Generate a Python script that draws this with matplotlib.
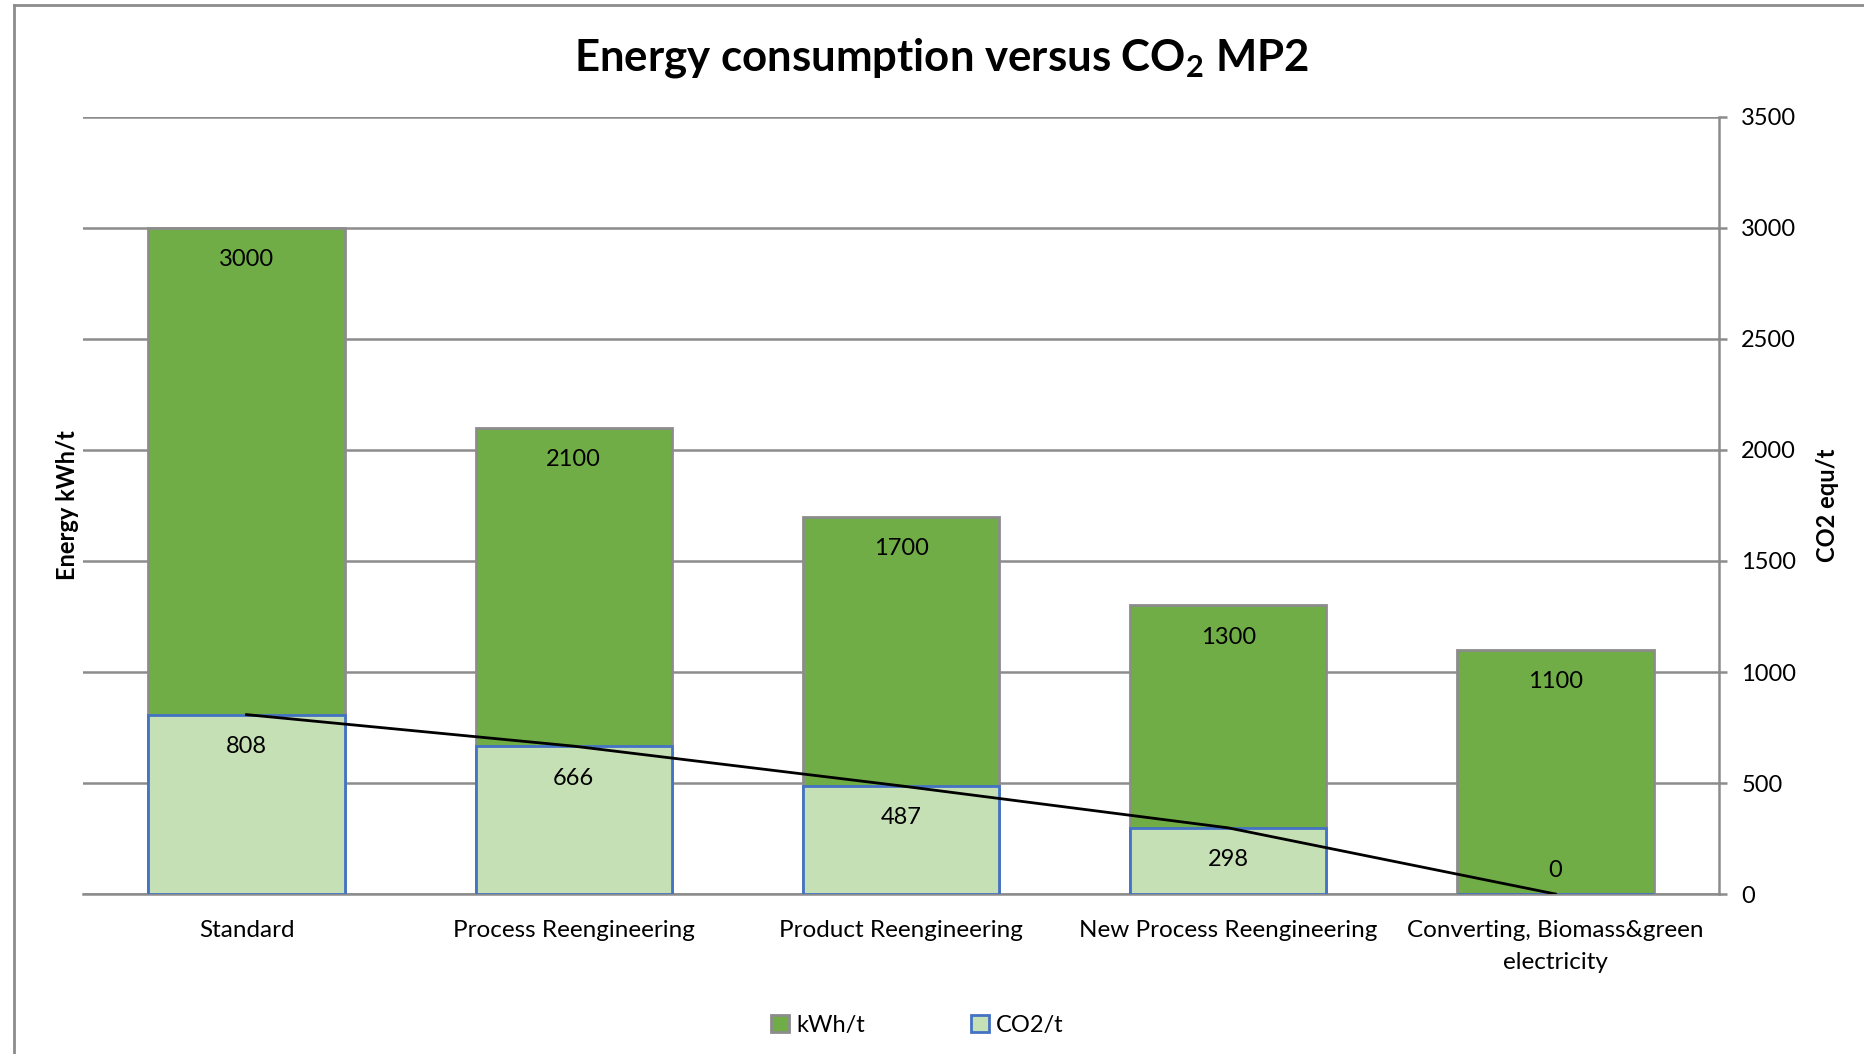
import matplotlib
matplotlib.use("Agg")
import matplotlib.pyplot as plt
from matplotlib.patches import Patch
from matplotlib.lines import Line2D
import numpy as np

# Dados do gráfico
categorias = ["Standard", "Process Reengineering", "Product Reengineering",
              "New Process Reengineering", "Converting, Biomass&green\nelectricity"]
energia_kwh = [3000, 2100, 1700, 1300, 1100]
co2_t = [808, 666, 487, 298, 0]
y_ticks = [0, 500, 1000, 1500, 2000, 2500, 3000, 3500]

plt.rcParams['font.family'] = ['Lato', 'DejaVu Sans']
plt.rcParams['mathtext.fontset'] = 'custom'
plt.rcParams['mathtext.rm'] = 'Lato:bold'
plt.rcParams['mathtext.it'] = 'Lato:bold'

verde = '#70AD47'
verde_claro = '#C5E0B4'
cinza = '#8C8C8C'
azul = '#4472C4'

fig = plt.figure(figsize=(18.65, 10.54), dpi=100)
ax = fig.add_axes([0.0445, 0.1518, 0.8772, 0.7372])
ax2 = ax.twinx()

x = np.arange(len(categorias))
largura = 0.6

# Barras de energia (eixo principal)
barras_e = ax.bar(x, energia_kwh, largura, color=verde, edgecolor=cinza, linewidth=2, zorder=2)
# Barras de CO2 (eixo secundário)
barras_c = ax2.bar(x, co2_t, largura, color=verde_claro, edgecolor=azul, linewidth=2, zorder=2)
# Linha de tendência do CO2
ax2.plot(x, co2_t, color='black', linewidth=2, zorder=3)

for a in (ax, ax2):
    a.set_ylim(0, 3500)
    a.set_xlim(-0.5, 4.5)
    for s in ['top', 'left']:
        a.spines[s].set_visible(False)

ax.set_axisbelow(True)
ax.set_yticks(y_ticks)
ax.yaxis.grid(True, color=cinza, linewidth=1.8)
ax.tick_params(axis='y', left=False, labelleft=False)
ax.spines['right'].set_visible(False)
ax.spines['bottom'].set_color(cinza)
ax.spines['bottom'].set_linewidth(1.8)
ax.set_xticks(x)
ax.set_xticklabels(categorias, fontsize=17.5, linespacing=1.6)
ax.tick_params(axis='x', length=0, pad=19)

ax2.set_yticks(y_ticks)
ax2.tick_params(axis='y', labelsize=17, length=6, width=1.8, color=cinza, pad=10)
ax2.spines['right'].set_color(cinza)
ax2.spines['right'].set_linewidth(1.8)
ax2.spines['bottom'].set_visible(False)

# Rótulos de valores
for xi, v in zip(x, energia_kwh):
    ax.annotate(str(v), (xi, v), xytext=(0, -23), textcoords='offset points',
                ha='center', va='center', fontsize=17)
for xi, v in zip(x, co2_t):
    dy = -23 if v > 0 else 17
    ax2.annotate(str(v), (xi, v), xytext=(0, dy), textcoords='offset points',
                 ha='center', va='center', fontsize=17)

ax.set_ylabel("Energy kWh/t", fontsize=17, fontweight='bold', labelpad=3)
ax2.set_ylabel("CO2 equ/t", fontsize=17, fontweight='bold', rotation=90, labelpad=14)

fig.text(0.505, 0.945, r"Energy consumption versus CO$_2$ MP2", ha='center', va='center',
         fontsize=31.5, fontweight='bold')

handles = [Patch(facecolor=verde, edgecolor=cinza, linewidth=2, label='kWh/t'),
           Patch(facecolor=verde_claro, edgecolor=azul, linewidth=2, label='CO2/t')]
fig.legend(handles=handles, loc='center', bbox_to_anchor=(0.492, 0.027), ncol=2,
           frameon=False, fontsize=17, handlelength=0.75, handleheight=0.75,
           handletextpad=0.3, columnspacing=4.5)

# Moldura do gráfico
fig.add_artist(Line2D([14 / 1865, 14 / 1865], [0, 1 - 5 / 1054], color=cinza, linewidth=2))
fig.add_artist(Line2D([14 / 1865, 1], [1 - 5 / 1054, 1 - 5 / 1054], color=cinza, linewidth=2))

fig.savefig("out.png", dpi=100)
